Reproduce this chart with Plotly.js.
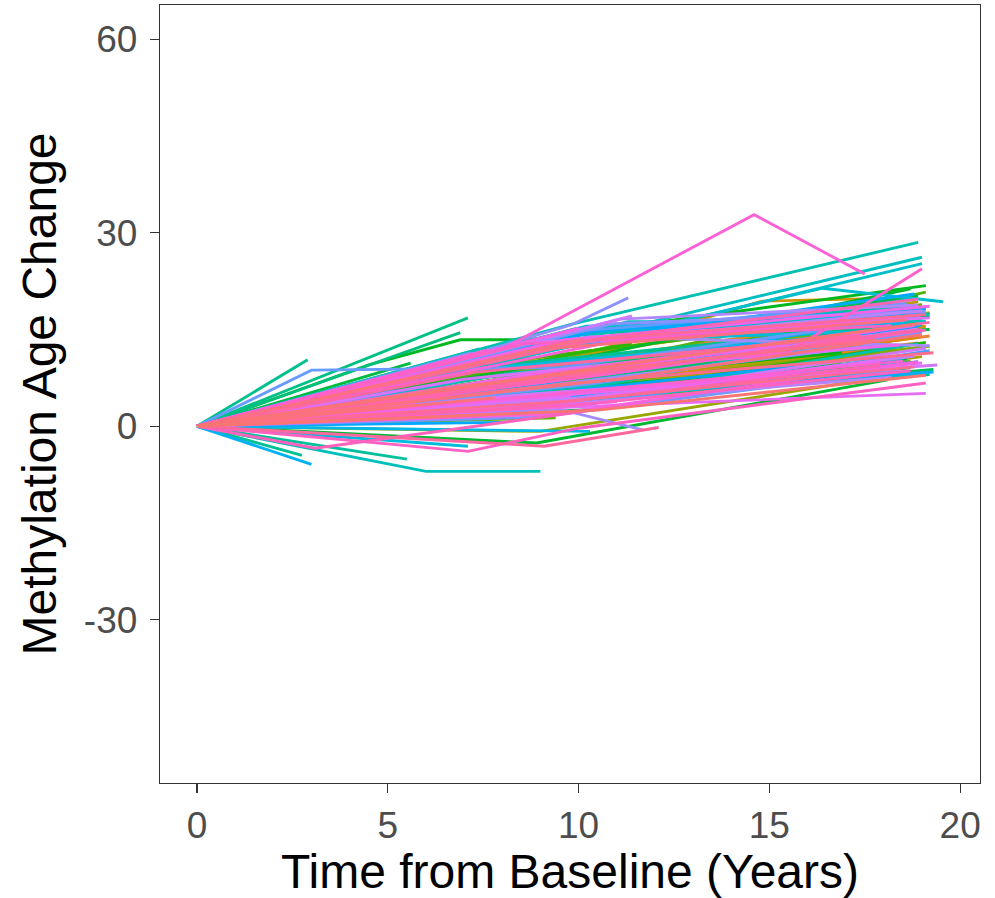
<!DOCTYPE html>
<html>
<head>
<meta charset="utf-8">
<script src="https://cdn.plot.ly/plotly-3.0.1.min.js"></script>
<style>html,body{margin:0;padding:0;background:#fff;}#chart{width:995px;height:898px;}</style>
</head>
<body>
<div id="chart"></div>
<script>
// Each subject: follow-up times (years) and methylation age change
const years = [
[0,8.5,18.6],[0,10.2],[0,6.8,17.9],[0,9.5,19.0],[0,5.1],[0,7.9,18.2],[0,11.0,18.8],[0,9.0],[0,6.2,16.5],[0,10.5,19.2],
[0,8.8,18.5],[0,7.5],[0,9.9,18.9],[0,5.9,15.8],[0,10.8,18.7],[0,8.2,17.6],[0,6.5],[0,10.0,19.0],[0,7.2,16.9],[0,9.4],
[0,11.2,18.9],[0,8.6,18.4],[0,6.9],[0,9.7,19.0],[0,10.3,19.1],[0,9.6,14.8,18.6],[0,5.8,15.3],[0,8.1],[0,9.2,18.3],[0,10.1],
[0,6.4,16.2],[0,9.8,19.2],[0,7.7,17.5],[0,11.5,18.9],[0,8.4],[0,9.3,18.6],[0,5.4,17.0],[0,10.6,19.0],[0,8.0,17.8],[0,9.1,18.5],
[0,6.1],[0,10.9,19.0],[0,7.4,16.8],[0,9.0,18.8],[0,11.3],[0,8.3,17.9],[0,10.4,19.1],[0,9.6,18.7],[0,8.7,17.4],[0,9.2,19.2],
[0,7.6],[0,11.1,18.6],[0,8.4,18.0],[0,10.2,19.0],[0,7.8,17.2],[0,9.4],[0,8.9,18.8],[0,10.7,19.1],[0,6.6,17.7],[0,9.9,18.9],
[0,8.1,18.4],[0,11.4],[0,9.5,19.1],[0,7.3,16.9],[0,4.5,6.9,8.7,19.1],[0,10.6,18.7],[0,8.9,18.1],[0,9.7,19.2],[0,5.6],[0,11.0,19.0],
[0,8.0,18.6],[0,9.3,18.9],[0,10.1,19.3],[0,7.0,17.8],[0,9.6,18.8],[0,10.8,19.2],[0,8.2,17.0],[0,6.3],[0,9.9,19.1],[0,10.4,18.7],
[0,6.9],[0,7.7,18.3],[0,7.1],[0,9.1,19.0],[0,2.9],[0,8.5,17.6],[0,2.75],[0,10.3,19.2],[0,5.5],[0,9.4,18.8],
[0,10.9,19.0],[0,8.3,18.1],[0,7.4],[0,9.8,18.9],[0,9.8,18.9],[0,10.0,19.2],[0,8.8,18.5],[0,6.0,9.0],[0,11.3,19.1],[0,10.5,19.0],
[0,9.5,18.7],[0,11.0,19.0],[0,7.9,17.9],[0,9.6,16.4,19.55],[0,10.6,19.0],[0,6.7],[0,9.3,18.8],[0,8.1,18.2],[0,7.1],[0,10.2,19.1],
[0,7.5,17.1],[0,11.4],[0,10.3],[0,8.7,18.6],[0,5.2],[0,10.0,18.9],[0,9.0,18.7],[0,7.8,17.4],[0,3.0],[0,10.7,19.0],
[0,8.6,18.3],[0,9.4],[0,11.2,19.3],[0,6.4,17.0],[0,9.9,18.8],[0,8.0],[0,10.5,19.1],[0,7.6,18.0],[0,9.2,18.9],[0,11.8],
[0,8.4,17.7],[0,10.1,19.2],[0,6.8],[0,9.7,18.6],[0,3.0,9.5,18.9],[0,10.4,19.0],[0,8.9,18.4],[0,7.2],[0,10.9,19.1],[0,3.2,9.8,11.3],
[0,9.0,18.7],[0,8.2,17.8],[0,9.6,11.7],[0,10.3,19.2],[0,6.0],[0,11.1,18.9],[0,8.7,18.2],[0,9.5,19.0],[0,7.9],[0,10.0,18.8],
[0,8.5,18.5],[0,11.4],[0,9.3,19.1],[0,8.5,19.4],[0,10.6,18.9],[0,7.0,17.6],[0,9.8],[0,10.8,19.2],[0,8.0,18.0],[0,9.1,18.6],
[0,9.0,19.1],[0,6.6],[0,10.2,19.0],[0,8.8,18.4],[0,11.0],[0,9.6,19.2],[0,7.4,17.3],[0,10.0],[0,8.3,18.8],[0,9.4,18.9],
[0,5.7],[0,10.7,19.0],[0,8.0,14.6,17.5],[0,9.0,18.5],[0,7.6],[0,9.2,15.5,19.0],[0,10.4,19.1],[0,8.6,18.2],[0,7.1,10.0,19.1],[0,9.8,18.7],
[0,3.1,11.0],[0,11.2,19.2],[0,6.2],[0,9.5,18.9],[0,8.1,17.9],[0,10.3],[0,9.1,19.0],[0,7.3,17.4],[0,9.1,12.1],[0,10.6,19.1],
[0,8.5],[0,9.7,18.8],[0,9.5,19.3],[0,6.9,17.8],[0,10.1],[0,8.9,18.6],[0,11.0,19.0],[0,7.8],[0,9.3,18.9],[0,10.5,19.1]
];
const change = [
[0,6.0,12.5],[0,7.8],[0,4.2,11.8],[0,8.0,15.3],[0,4.0],[0,5.5,13.1],[0,9.6,16.2],[0,5.3],[0,5.8,12.0],[0,7.1,14.0],
[0,9.2,17.2],[0,3.9],[0,6.6,12.9],[0,4.8,14.6],[0,8.5,18.4],[0,7.0,9.8],[0,5.9],[0,8.8,16.8],[0,2.9,10.2],[0,7.4],
[0,8.1,13.8],[0,4.9,9.6],[0,6.3],[0,11.0,18.5],[0,7.7,15.5],[0,10.2,19.4,19.9],[0,3.2,8.9],[0,9.9],[0,5.1,11.9],[0,5.6],
[0,6.9,12.7],[0,9.0,17.6],[0,1.8,10.6],[0,12.4,19.3],[0,3.1],[0,6.3,14.9],[0,5.0,11.0],[0,4.4,10.8],[0,8.6,16.0],[0,10.8,17.9],
[0,4.5],[0,6.0,12.2],[0,7.9,14.4],[0,-0.8,8.4],[0,10.4],[0,5.4,13.6],[0,9.3,16.9],[0,3.6,10.1],[0,7.2,15.8],[0,5.7,12.4],
[0,10.8],[0,7.9,16.4],[0,2.2,9.0],[0,8.4,18.9],[0,4.6,12.6],[0,1.3],[0,6.8,14.3],[0,9.9,20.8],[0,3.7,8.2],[0,7.5,16.1],
[0,10.1,17.5],[0,12.9],[0,4.3,13.0],[0,6.1,11.4],[0,9.5,13.4,13.4,21.8],[0,11.2,21.3],[0,-2.6,7.2],[0,13.5,15.0],[0,9.8],[0,9.4,18.1],
[0,5.0,10.4],[0,12.6,20.2],[0,4.2,8.8],[0,3.0,9.3],[0,14.2,16.6],[0,8.0,17.1],[0,6.4,12.1],[0,2.4],[0,15.1,18.2],[0,2.6,9.1],
[0,14.5],[0,7.7,14.7],[0,16.8],[0,5.9,16.5],[0,10.3],[0,9.8,15.2],[0,-4.5],[0,5.0,8.0],[0,-5.1],[0,13.8,18.7],
[0,6.7,15.9],[0,8.3,12.3],[0,12.0],[0,3.9,12.8],[0,15.8,28.5],[0,14.6,17.4],[0,3.3,10.5],[0,-7.0,-7.0],[0,16.2,16.3],[0,14.2,26.2],
[0,5.9,7.9],[0,13.9,25.2],[0,11.4,18.0],[0,12.1,21.4,19.3],[0,8.6,15.7],[0,3.5],[0,13.1,14.9],[0,2.9,8.6],[0,-3.1],[0,15.5,17.5],
[0,8.9,14.2],[0,9.7],[0,-0.8],[0,12.4,16.0],[0,5.5],[0,4.1,10.0],[0,11.9,19.6],[0,2.0,9.9],[0,-5.9],[0,9.1,14.8],
[0,6.0,17.2],[0,13.9],[0,5.3,8.4],[0,5.2,13.0],[0,13.2,20.5],[0,0.6],[0,14.8,18.3],[0,4.0,10.9],[0,8.2,15.4],[0,6.5],
[0,11.8,16.7],[0,3.3,11.7],[0,7.0],[0,14.6,19.0],[0,8.7,9.1,17.0],[0,6.6,14.6],[0,1.4,8.7],[0,11.4],[0,15.9,17.8],[0,4.0,15.7,19.9],
[0,3.8,9.7],[0,5.6,12.6],[0,2.5,-0.6],[0,13.9,12.5],[0,1.8],[0,16.6,18.8],[0,3.0,7.6],[0,12.7,17.9],[0,6.8],[0,4.4,10.9],
[0,12.9,16.4],[0,17.1],[0,3.5,12.1],[0,4.9,9.5],[0,8.3,15.1],[0,7.3,13.7],[0,4.7],[0,14.0,16.8],[0,2.6,10.3],[0,12.6,17.0],
[0,2.8,5.1],[0,10.2],[0,5.1,9.8],[0,8.1,12.6],[0,3.8],[0,13.4,18.6],[0,3.9,8.9],[0,15.2],[0,6.9,15.6],[0,1.9,10.0],
[0,3.6],[0,12.9,17.3],[0,12.0,32.8,23.6],[0,4.8,10.1],[0,11.8],[0,8.0,11.5,24.4],[0,7.8,14.9],[0,12.8,15.6],[0,-3.9,-0.3,6.7],[0,3.2,8.6],
[0,-3.4,3.0],[0,9.8,16.1],[0,5.4],[0,12.8,19.7],[0,2.7,9.4],[0,8.6],[0,7.1,15.0],[0,8.4,14.0],[0,-3.1,-0.2],[0,13.6,17.3],
[0,2.0],[0,3.9,9.2],[0,6.5,11.4],[0,6.2,13.4],[0,13.5],[0,11.9,16.5],[0,7.3,14.2],[0,4.4],[0,8.0,15.9],[0,2.5,7.9]
];
const xTicks = [0,5,10,15,20];
const yTicks = [-30,0,30,60];

// ggplot2-style hue palette (HCL, c=100, l=65)
function hcl(h, c, l) {
  const hr = h * Math.PI / 180;
  const U = c * Math.cos(hr), V = c * Math.sin(hr);
  const Xn = 95.047, Yn = 100, Zn = 108.883;
  const un = 4 * Xn / (Xn + 15 * Yn + 3 * Zn), vn = 9 * Yn / (Xn + 15 * Yn + 3 * Zn);
  const Y = l > 8 ? Yn * Math.pow((l + 16) / 116, 3) : Yn * l / 903.3;
  const u = U / (13 * l) + un, v = V / (13 * l) + vn;
  const X = 9 * Y * u / (4 * v);
  const Z = 3 * Y / v - 5 * Y - X / 3;
  const x = X / 100, y = Y / 100, z = Z / 100;
  let rgb = [3.240479 * x - 1.537150 * y - 0.498535 * z,
             -0.969256 * x + 1.875992 * y + 0.041556 * z,
             0.055648 * x - 0.204043 * y + 1.057311 * z];
  rgb = rgb.map(t => {
    t = t <= 0.0031308 ? 12.92 * t : 1.055 * Math.pow(t, 1 / 2.4) - 0.055;
    t = Math.max(0, Math.min(1, t));
    return Math.round(t * 255);
  });
  return 'rgb(' + rgb.join(',') + ')';
}

const n = years.length;
const traces = years.map((t, i) => ({
  type: 'scatter', mode: 'lines',
  x: t, y: change[i],
  line: {color: hcl(15 + 360 * i / n, 100, 65), width: 2.9},
  hoverinfo: 'skip', showlegend: false
}));

const layout = {
  width: 995, height: 898,
  margin: {l: 160, r: 15, t: 5, b: 115},
  paper_bgcolor: '#fff', plot_bgcolor: '#fff',
  font: {family: 'Liberation Sans, Arial, sans-serif'},
  showlegend: false,
  xaxis: {
    range: [-0.97, 20.52], tickvals: xTicks, ticktext: xTicks.map(String),
    ticks: 'outside', ticklen: 9, tickwidth: 1.3, tickcolor: '#333',
    showline: true, mirror: true, linecolor: '#333', linewidth: 1.3,
    showgrid: false, zeroline: false,
    tickfont: {size: 37, color: '#4D4D4D'},
    title: {text: 'Time from Baseline (Years)', font: {size: 48, color: '#000'}, standoff: 6}
  },
  yaxis: {
    range: [-55.3, 65.3], tickvals: yTicks, ticktext: yTicks.map(String),
    ticks: 'outside', ticklen: 9, tickwidth: 1.3, tickcolor: '#333',
    showline: true, mirror: true, linecolor: '#333', linewidth: 1.3,
    showgrid: false, zeroline: false, ticklabelstandoff: 5,
    tickfont: {size: 37, color: '#4D4D4D'},
    title: {text: 'Methylation Age Change', font: {size: 48, color: '#000'}, standoff: 12}
  }
};

Plotly.newPlot('chart', traces, layout, {staticPlot: true, displayModeBar: false});
</script>
</body>
</html>
